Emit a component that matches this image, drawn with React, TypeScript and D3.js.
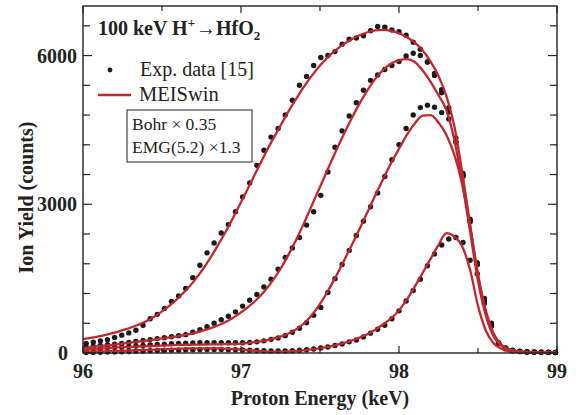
import React from "react";
import * as d3 from "d3";

const serif = "'Liberation Serif', 'Times New Roman', serif";
const red = "#c0282d";

// experimental points: energy grid (keV) shared by all four spectra
const expStart = 96.02;
const expStep = 0.045;
const expEnergy = d3.range(67).map(i => expStart + i * expStep);

const exp1 = [
  195, 220, 245, 268, 315, 360, 405, 460, 560, 690,
  780, 900, 1040, 1150, 1300, 1520, 1770, 2020, 2220, 2420,
  2590, 2850, 3150, 3430, 3785, 4090, 4355, 4530, 4800, 5100,
  5400, 5580, 5800, 5960, 6000, 6080, 6230, 6330, 6355, 6400,
  6500, 6585, 6570, 6515, 6480, 6410, 6270, 6130, 5870, 5640,
  5310, 4950, 4340, 3620, 2700, 1820, 1100, 600, 210, 100,
  55, 35, 25, 20, 18, 15, 12
];
const exp2 = [
  120, 135, 150, 165, 180, 195, 215, 235, 255, 270,
  290, 310, 330, 350, 370, 420, 470, 530, 600, 670,
  740, 830, 946, 1065, 1180, 1330, 1490, 1690, 1930, 2120,
  2330, 2580, 2850, 3180, 3650, 4150, 4480, 4780, 5050, 5300,
  5500, 5610, 5720, 5800, 5880, 5990, 6046, 6000, 5870, 5600,
  5250, 4860, 4270, 3580, 2660, 1790, 1070, 570, 200, 95,
  50, 32, 22, 18, 15, 12, 10
];
const exp3 = [
  75, 85, 95, 105, 110, 120, 130, 140, 150, 160,
  170, 180, 190, 195, 200, 205, 208, 210, 210, 208,
  208, 208, 208, 212, 225, 245, 275, 305, 350, 420,
  500, 610, 760, 920, 1220, 1500, 1786, 2070, 2370, 2660,
  2950, 3230, 3560, 3900, 4200, 4530, 4800, 4950, 5000, 4960,
  4850, 4720, 4250, 3560, 2650, 1780, 1050, 560, 190, 90,
  45, 30, 20, 16, 14, 12, 10
];
const exp4 = [
  10, 12, 15, 18, 22, 25, 30, 35, 40, 45,
  50, 55, 58, 62, 65, 68, 70, 72, 72, 70,
  68, 65, 60, 55, 50, 45, 42, 40, 40, 45,
  55, 65, 80, 100, 120, 150, 181, 225, 262, 325,
  400, 480, 560, 690, 850, 1050, 1260, 1490, 1760, 2000,
  2180, 2300, 2330, 2230, 1870, 1600, 1000, 540, 190, 85,
  42, 28, 20, 15, 13, 11, 10
];

// MEISwin simulations on a 0.05 keV grid
const simStart = 96;
const simStep = 0.05;
const simEnergy = d3.range(61).map(i => simStart + i * simStep);

const sim1 = [
  280, 305, 335, 370, 410, 460, 510, 570, 640, 730,
  840, 960, 1100, 1260, 1440, 1650, 1890, 2150, 2430, 2730,
  3040, 3360, 3680, 4000, 4300, 4590, 4870, 5130, 5380, 5600,
  5800, 5970, 6110, 6230, 6330, 6410, 6470, 6510, 6520, 6500,
  6450, 6370, 6260, 6100, 5880, 5590, 5180, 4580, 3650, 2600,
  1600, 850, 390, 160, 70, 35, 20, 14, 12, 10,
  10
];
const sim2 = [
  95, 120, 140, 155, 170, 190, 210, 230, 250, 270,
  295, 315, 340, 365, 400, 440, 490, 550, 620, 710,
  820, 940, 1080, 1250, 1460, 1700, 1980, 2290, 2630, 2990,
  3350, 3710, 4070, 4410, 4730, 5030, 5300, 5530, 5710, 5840,
  5910, 5930, 5870, 5700, 5470, 5200, 4900, 4300, 3450, 2550,
  1530, 800, 360, 150, 65, 32, 18, 13, 11, 10,
  10
];
const sim3 = [
  70, 80, 90, 100, 110, 118, 125, 132, 138, 145,
  150, 156, 162, 165, 168, 170, 172, 175, 178, 182,
  190, 205, 225, 250, 285, 330, 395, 480, 600, 770,
  990, 1250, 1540, 1850, 2170, 2500, 2840, 3180, 3510, 3830,
  4120, 4400, 4630, 4790, 4800, 4650, 4400, 4000, 3400, 2450,
  1450, 750, 330, 140, 60, 30, 17, 12, 10, 9,
  9
];
const sim4 = [
  25, 28, 32, 36, 40, 45, 50, 56, 62, 68,
  74, 80, 85, 90, 93, 95, 95, 93, 88, 80,
  68, 55, 42, 33, 28, 28, 32, 40, 55, 72,
  95, 125, 160, 200, 250, 310, 380, 470, 580, 700,
  860, 1080, 1340, 1620, 1900, 2180, 2420, 2350, 2150, 1680,
  950, 450, 190, 80, 35, 18, 12, 10, 9, 8,
  8
];

const expSeries = [exp1, exp2, exp3, exp4];
const simSeries = [sim1, sim2, sim3, sim4];

const xMajor = [96, 97, 98, 99];
const xMinor = [96.5, 97.5, 98.5];
const yMajor = [0, 3000, 6000];
const yMinor = [600, 1200, 1800, 2400, 3600, 4200, 4800, 5400, 6600];

export default function App() {
  const W = 581, H = 415;
  const L = 83, R = 557, T = 6, B = 353;

  const x = d3.scaleLinear().domain([96, 99]).range([L, R]);
  const y = d3.scaleLinear().domain([0, 7000]).range([B, T]);

  const line = d3.line<number>()
    .x((_, i) => x(simEnergy[i]))
    .y(d => y(d))
    .curve(d3.curveMonotoneX);

  return (
    <div style={{ position: "absolute", left: 0, top: 0 }}>
      <svg width={W} height={H} style={{ display: "block", background: "#fff", fontFamily: serif }}>
        {/* data points */}
        {expSeries.map((s, si) => (
          <g key={"e" + si} fill="#1a1a1a">
            {s.map((v, i) => (
              <circle key={i} cx={x(expEnergy[i])} cy={y(v)} r={2.7} />
            ))}
          </g>
        ))}

        {/* simulations */}
        {simSeries.map((s, si) => (
          <path key={"s" + si} d={line(s) || ""} fill="none" stroke={red} strokeWidth={2.3} />
        ))}

        {/* frame */}
        <rect x={L} y={T} width={R - L} height={B - T} fill="none" stroke="#222" strokeWidth={1.4} />

        {/* x ticks */}
        {xMajor.map(v => (
          <g key={"xM" + v}>
            <line x1={x(v)} x2={x(v)} y1={B} y2={B - 7} stroke="#222" strokeWidth={1.2} />
            <line x1={x(v)} x2={x(v)} y1={T} y2={T + 7} stroke="#222" strokeWidth={1.2} />
            <text x={x(v)} y={378} textAnchor="middle" fontSize={20} fontWeight="bold" fill="#222">{v}</text>
          </g>
        ))}
        {xMinor.map(v => (
          <g key={"xm" + v}>
            <line x1={x(v)} x2={x(v)} y1={B} y2={B - 5} stroke="#222" strokeWidth={1.2} />
            <line x1={x(v)} x2={x(v)} y1={T} y2={T + 5} stroke="#222" strokeWidth={1.2} />
          </g>
        ))}

        {/* y ticks */}
        {yMajor.map(v => (
          <g key={"yM" + v}>
            <line x1={L} x2={L + 9} y1={y(v)} y2={y(v)} stroke="#222" strokeWidth={1.2} />
            <line x1={R} x2={R - 9} y1={y(v)} y2={y(v)} stroke="#222" strokeWidth={1.2} />
            <text x={v === 0 ? 68 : 77} y={y(v)} dy="0.35em" textAnchor="end" fontSize={20} fontWeight="bold" fill="#222">{v}</text>
          </g>
        ))}
        {yMinor.map(v => (
          <g key={"ym" + v}>
            <line x1={L} x2={L + 7} y1={y(v)} y2={y(v)} stroke="#222" strokeWidth={1.2} />
            <line x1={R} x2={R - 7} y1={y(v)} y2={y(v)} stroke="#222" strokeWidth={1.2} />
          </g>
        ))}

        {/* axis titles */}
        <text x={(L + R) / 2} y={405} textAnchor="middle" fontSize={20} fontWeight="bold" fill="#222">Proton Energy (keV)</text>
        <text transform={`translate(33,${(T + B) / 2 + 18}) rotate(-90)`} textAnchor="middle" fontSize={20} fontWeight="bold" fill="#222">Ion Yield (counts)</text>

        {/* legend */}
        <text x={98} y={35} fontSize={20} fontWeight="bold" fill="#222">
          100 keV H<tspan fontSize={13} dy={-8}>+</tspan><tspan dy={8} dx={1}>→HfO</tspan><tspan fontSize={13} dy={5}>2</tspan>
        </text>
        <circle cx={110} cy={70} r={2.4} fill="#1a1a1a" />
        <text x={140} y={76} fontSize={20} fill="#222">Exp. data [15]</text>
        <line x1={98} x2={131} y1={95} y2={95} stroke={red} strokeWidth={2.3} />
        <text x={139} y={101} fontSize={20.5} fill="#222">MEISwin</text>
        <rect x={127} y={110} width={125} height={52} fill="#fff" stroke="#222" strokeWidth={1} />
        <text x={132} y={130} fontSize={17.5} fill="#222">Bohr × 0.35</text>
        <text x={132} y={153} fontSize={17.5} fill="#222">EMG(5.2) ×1.3</text>
      </svg>
    </div>
  );
}
